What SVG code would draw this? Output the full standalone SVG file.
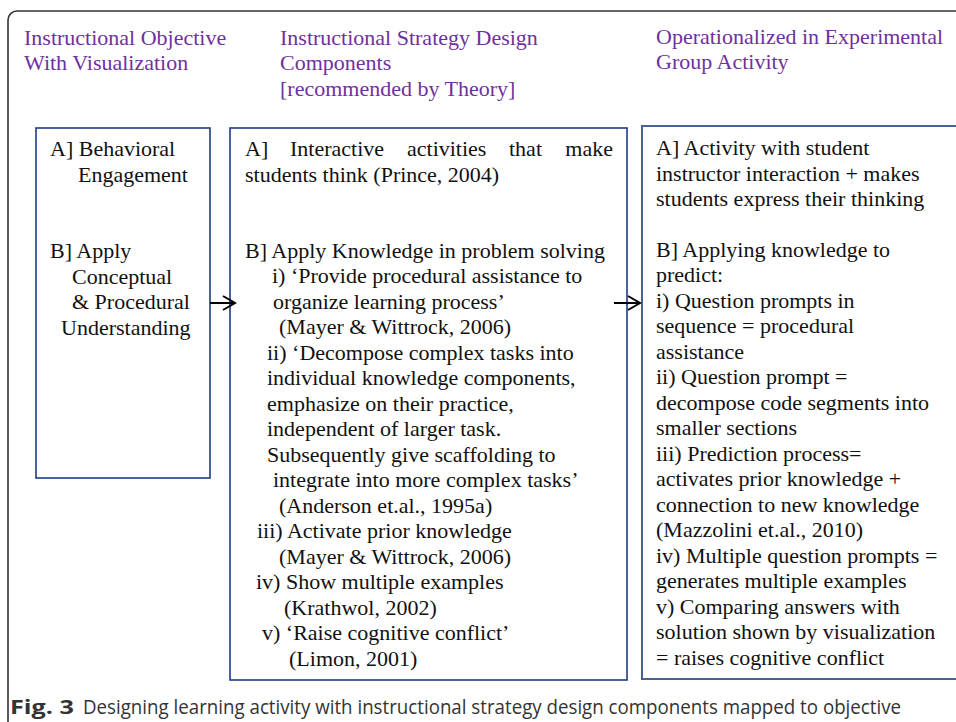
<svg xmlns="http://www.w3.org/2000/svg" width="956" height="722" viewBox="0 0 956 722">
<style>
.hd{font-family:"Liberation Serif","Times New Roman",serif;font-size:22px;fill:#7030A0}
.tx{font-family:"Liberation Serif","Times New Roman",serif;font-size:22px;fill:#111}
.box{fill:#fff;stroke:#1F3A80;stroke-width:1.6}
.box3{fill:#fff;stroke:#4A6196;stroke-width:2}
.arr{stroke:#000;stroke-width:2;fill:none}
.cap{font-family:"Open Sans","Liberation Sans",sans-serif;font-size:20px;fill:#333}
</style>
<rect width="956" height="722" fill="#fff"/>
<rect x="8" y="11" width="1000" height="760" rx="9" fill="none" stroke="#333" stroke-width="1.6"/>
<g id="headers">
<text class="hd" x="24" y="45">Instructional Objective</text>
<text class="hd" x="24" y="70">With Visualization</text>
<text class="hd" x="280" y="45">Instructional Strategy Design</text>
<text class="hd" x="280" y="70">Components</text>
<text class="hd" x="280" y="96">[recommended by Theory]</text>
<text class="hd" x="656" y="44">Operationalized in Experimental</text>
<text class="hd" x="656" y="69">Group Activity</text>
</g>
<g id="node-objective">
<rect class="box" x="36" y="128" width="174" height="350"/>
<text class="tx" x="50" y="156">A] Behavioral</text>
<text class="tx" x="78" y="182">Engagement</text>
<text class="tx" x="50" y="258">B] Apply</text>
<text class="tx" x="72" y="284">Conceptual</text>
<text class="tx" x="72" y="309">&amp; Procedural</text>
<text class="tx" x="61" y="335">Understanding</text>
</g>
<g id="node-strategy">
<rect class="box" x="230" y="128" width="397" height="552"/>
<text class="tx" x="245" y="156">A]</text>
<text class="tx" x="290" y="156">Interactive</text>
<text class="tx" x="407" y="156">activities</text>
<text class="tx" x="509" y="156">that</text>
<text class="tx" x="613" y="156" text-anchor="end">make</text>
<text class="tx" x="245" y="182">students think (Prince, 2004)</text>
<text class="tx" x="245" y="258">B] Apply Knowledge in problem solving</text>
<text class="tx" x="272" y="283">i) ‘Provide procedural assistance to</text>
<text class="tx" x="273" y="309">organize learning process’</text>
<text class="tx" x="279" y="334">(Mayer &amp; Wittrock, 2006)</text>
<text class="tx" x="267" y="360">ii) ‘Decompose complex tasks into</text>
<text class="tx" x="267" y="385">individual knowledge components,</text>
<text class="tx" x="267" y="411">emphasize on their practice,</text>
<text class="tx" x="267" y="436">independent of larger task.</text>
<text class="tx" x="267" y="462">Subsequently give scaffolding to</text>
<text class="tx" x="273" y="487">integrate into more complex tasks’</text>
<text class="tx" x="279" y="513">(Anderson et.al., 1995a)</text>
<text class="tx" x="257" y="538">iii) Activate prior knowledge</text>
<text class="tx" x="279" y="564">(Mayer &amp; Wittrock, 2006)</text>
<text class="tx" x="256" y="589">iv) Show multiple examples</text>
<text class="tx" x="284" y="615">(Krathwol, 2002)</text>
<text class="tx" x="262" y="640">v) ‘Raise cognitive conflict’</text>
<text class="tx" x="289" y="666">(Limon, 2001)</text>
</g>
<g id="node-activity">
<rect class="box3" x="642" y="126" width="330" height="553"/>
<text class="tx" x="656" y="155">A] Activity with student</text>
<text class="tx" x="656" y="181">instructor interaction + makes</text>
<text class="tx" x="656" y="206">students express their thinking</text>
<text class="tx" x="656" y="257">B] Applying knowledge to</text>
<text class="tx" x="656" y="282">predict:</text>
<text class="tx" x="656" y="308">i) Question prompts in</text>
<text class="tx" x="656" y="333">sequence = procedural</text>
<text class="tx" x="656" y="359">assistance</text>
<text class="tx" x="656" y="384">ii) Question prompt =</text>
<text class="tx" x="656" y="410">decompose code segments into</text>
<text class="tx" x="656" y="435">smaller sections</text>
<text class="tx" x="656" y="461">iii) Prediction process=</text>
<text class="tx" x="656" y="486">activates prior knowledge +</text>
<text class="tx" x="656" y="512">connection to new knowledge</text>
<text class="tx" x="656" y="537">(Mazzolini et.al., 2010)</text>
<text class="tx" x="656" y="563">iv) Multiple question prompts =</text>
<text class="tx" x="656" y="588">generates multiple examples</text>
<text class="tx" x="656" y="614">v) Comparing answers with</text>
<text class="tx" x="656" y="639">solution shown by visualization</text>
<text class="tx" x="656" y="665">= raises cognitive conflict</text>
</g>
<g id="connectors">
<line class="arr" x1="210" y1="303" x2="235" y2="303"/>
<polyline class="arr" points="223,296 235,303 223,310"/>
<line class="arr" x1="614" y1="303" x2="640" y2="303"/>
<polyline class="arr" points="628,296 640,303 628,310"/>
</g>
<g id="caption">
<text class="cap" x="10" y="714" font-size="22px" font-weight="bold" fill="#222" textLength="64" lengthAdjust="spacingAndGlyphs">Fig. 3</text>
<text class="cap" x="83" y="714" textLength="818" lengthAdjust="spacingAndGlyphs">Designing learning activity with instructional strategy design components mapped to objective</text>
</g>
</svg>
